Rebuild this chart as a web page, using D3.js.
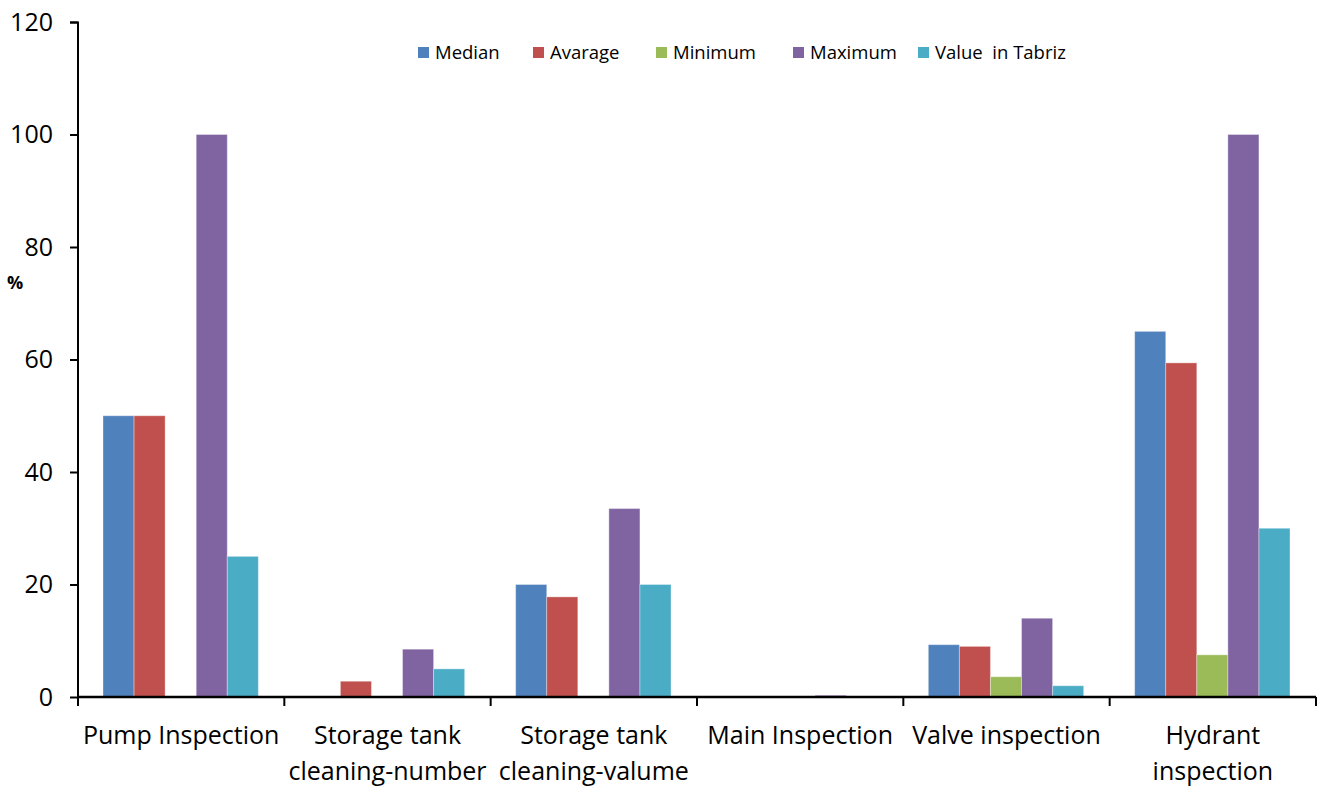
<!DOCTYPE html>
<html>
<head>
<meta charset="utf-8">
<script src="https://cdn.jsdelivr.net/npm/d3@7"></script>
<style>
  html, body { margin: 0; padding: 0; background: #fff; }
  svg { display: block; font-family: "Open Sans", sans-serif; }
</style>
</head>
<body>
<svg id="chart" width="1321" height="787"></svg>
<script>
// Inspection categories (x axis), each label split over lines
const categories = [
  ["Pump Inspection"],
  ["Storage tank", "cleaning-number"],
  ["Storage tank", "cleaning-valume"],
  ["Main Inspection"],
  ["Valve inspection"],
  ["Hydrant", "inspection"]
];

// Series names and values (%), one value per category
const seriesNames = ["Median", "Avarage", "Minimum", "Maximum", "Value  in Tabriz"];
const median  = [50, 0, 20, 0, 9.3, 65];
const average = [50, 2.8, 17.8, 0, 9, 59.4];
const minimum = [0, 0, 0, 0, 3.6, 7.5];
const maximum = [100, 8.5, 33.5, 0.3, 14, 100];
const tabriz  = [25, 5, 20, 0, 2, 30];
const seriesValues = [median, average, minimum, maximum, tabriz];
const colors = ["#4F81BD", "#C0504D", "#9BBB59", "#8064A2", "#4BACC6"];

const yTicks = [0, 20, 40, 60, 80, 100, 120];

const svg = d3.select("#chart");
const margin = { left: 78, right: 5, top: 22, bottom: 90 };
const width = 1321, height = 787;
const plotW = width - margin.left - margin.right;
const plotH = height - margin.top - margin.bottom;

const g = svg.append("g").attr("transform", `translate(${margin.left},${margin.top})`);

const x0 = d3.scaleBand().domain(d3.range(categories.length)).range([0, plotW]).paddingInner(0).paddingOuter(0);
const x1 = d3.scaleBand().domain(d3.range(seriesNames.length)).range([25, x0.bandwidth() - 26]).padding(0);
const y = d3.scaleLinear().domain([0, 120]).range([plotH, 0]);

// bars
categories.forEach((c, ci) => {
  const cg = g.append("g").attr("transform", `translate(${x0(ci)},0)`);
  seriesValues.forEach((vals, si) => {
    const v = vals[ci];
    if (v <= 0) return;
    cg.append("rect")
      .attr("x", x1(si))
      .attr("y", y(v))
      .attr("width", x1.bandwidth())
      .attr("height", y(0) - y(v))
      .attr("fill", colors[si])
      .attr("stroke", "rgba(255,255,255,0.35)")
      .attr("stroke-width", 1);
  });
});

// y axis
const yAxis = d3.axisLeft(y).tickValues(yTicks).tickSize(8).tickPadding(17);
const yG = g.append("g").call(yAxis);
yG.select(".domain").attr("stroke", "#000").attr("stroke-width", 2).attr("d", `M-8,0.5H0V${plotH}`);
yG.selectAll(".tick line").attr("stroke", "#000").attr("stroke-width", 2);
yG.selectAll(".tick text").attr("font-size", 25).attr("fill", "#000").attr("font-family", "'Open Sans', sans-serif");

// x axis: baseline with ticks at category boundaries
const xG = g.append("g").attr("transform", `translate(0,${plotH})`);
xG.append("line").attr("x1", 0).attr("x2", plotW).attr("y1", 0).attr("y2", 0)
  .attr("stroke", "#000").attr("stroke-width", 2.5);
d3.range(categories.length + 1).forEach(i => {
  const xp = i < categories.length ? x0(i) : plotW;
  xG.append("line").attr("x1", xp).attr("x2", xp).attr("y1", 0).attr("y2", 9)
    .attr("stroke", "#000").attr("stroke-width", 2);
});
categories.forEach((lines, ci) => {
  const t = xG.append("text")
    .attr("text-anchor", "middle")
    .attr("font-size", 25)
    .attr("fill", "#000")
    .attr("transform", `translate(${x0(ci) + x0.bandwidth() / 2},47)`);
  lines.forEach((ln, li) => {
    t.append("tspan").attr("x", 0).attr("dy", li === 0 ? 0 : 36).text(ln);
  });
});

// y axis unit label
svg.append("text").attr("x", 7).attr("y", 289).attr("font-size", 18).attr("font-weight", "bold")
  .attr("fill", "#000").text("%");

// legend
const legendX = [418, 533, 656, 793, 918];
const legend = svg.append("g");
seriesNames.forEach((n, i) => {
  legend.append("rect").attr("x", legendX[i]).attr("y", 47).attr("width", 11).attr("height", 11).attr("fill", colors[i]);
  legend.append("text").attr("x", legendX[i] + 17).attr("y", 59).attr("font-size", 18.5).attr("fill", "#000")
    .attr("xml:space", "preserve").style("white-space", "pre").text(n);
});
</script>
</body>
</html>
